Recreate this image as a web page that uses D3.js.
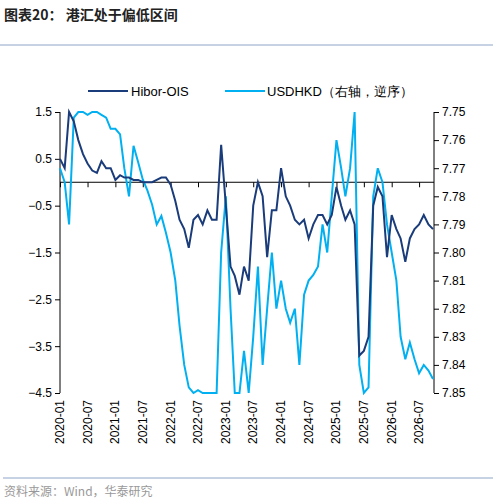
<!DOCTYPE html><html><head><meta charset="utf-8"><script src="https://cdn.jsdelivr.net/npm/d3@7"></script>
<style>body{margin:0;background:#fff}text{font-family:Arial,"Liberation Sans",sans-serif}</style></head><body><svg id="c" width="493" height="501"></svg><script>
const months=[];for(let y=2020;y<=2026;y++)for(let m=1;m<=12;m++){if(y===2026&&m>10)break;months.push(y+"-"+String(m).padStart(2,"0"));}
const hibor=[0.5,0.3,1.5,1.3,0.9,0.6,0.4,0.25,0.2,0.45,0.3,0.3,0.05,0.15,0.1,0.1,0.05,0.05,0.0,0.0,0.0,0.05,0.1,0.1,-0.05,-0.4,-0.8,-1.0,-1.4,-0.8,-0.7,-0.9,-0.6,-0.8,-0.8,0.8,-0.5,-1.8,-2.0,-2.4,-1.8,-2.1,-0.5,0.0,-0.3,-1.6,-0.6,-0.6,0.3,-0.3,-0.5,-0.8,-0.9,-0.8,-1.2,-0.9,-0.7,-0.7,-0.9,-0.7,-0.1,-0.5,-0.8,-0.6,-0.9,-3.7,-3.6,-3.3,-0.5,-0.1,-0.3,-1.6,-0.7,-1.0,-1.2,-1.7,-1.2,-1.0,-0.9,-0.7,-0.9,-1.0];
const usdhkd=[7.77,7.775,7.79,7.752,7.75,7.75,7.751,7.75,7.75,7.751,7.752,7.756,7.756,7.758,7.77,7.78,7.762,7.768,7.774,7.778,7.783,7.79,7.787,7.793,7.80,7.81,7.826,7.84,7.848,7.85,7.849,7.85,7.85,7.85,7.85,7.80,7.78,7.82,7.85,7.85,7.835,7.85,7.83,7.805,7.84,7.82,7.80,7.82,7.81,7.82,7.825,7.82,7.84,7.815,7.81,7.808,7.805,7.79,7.80,7.78,7.76,7.77,7.78,7.77,7.75,7.84,7.85,7.848,7.78,7.77,7.775,7.79,7.80,7.81,7.83,7.838,7.832,7.838,7.843,7.84,7.842,7.845];
const xTicks=["2020-01","2020-07","2021-01","2021-07","2022-01","2022-07","2023-01","2023-07","2024-01","2024-07","2025-01","2025-07","2026-01","2026-07"];
const leftTicks=[1.5,0.5,-0.5,-1.5,-2.5,-3.5,-4.5];
const rightTicks=[7.75,7.76,7.77,7.78,7.79,7.80,7.81,7.82,7.83,7.84,7.85];
const svg=d3.select("#c");
const pm=s=>d3.timeParse("%Y-%m")(s);
const x=d3.scaleTime().domain([pm("2020-01"),pm("2026-10")]).range([60,433]);
const yL=d3.scaleLinear().domain([-4.5,1.5]).range([393,112]);
const yR=d3.scaleLinear().domain([7.85,7.75]).range([393,112]);
svg.append("text").attr("x",4).attr("y",20).attr("font-size",14).attr("font-weight","bold").attr("fill","#222").style("font-family","'Noto Sans CJK SC'").text("图表20：  港汇处于偏低区间");
svg.append("line").attr("x1",0).attr("x2",493).attr("y1",45).attr("y2",45).attr("stroke","#8EA4C8").attr("stroke-width",1);
svg.append("line").attr("x1",3).attr("x2",493).attr("y1",478).attr("y2",478).attr("stroke","#8EA4C8").attr("stroke-width",1);
svg.append("text").attr("x",4).attr("y",496).attr("font-size",12).attr("fill","#999").style("font-family","'Noto Sans CJK SC'").text("资料来源：Wind，华泰研究");
// axes
const gl=svg.append("g").attr("transform","translate(60,0)").call(d3.axisLeft(yL).tickValues(leftTicks).tickFormat(d3.format(".1f")).tickSize(5));
const gr=svg.append("g").attr("transform","translate(434,0)").call(d3.axisRight(yR).tickValues(rightTicks).tickFormat(d3.format(".2f")).tickSize(5));
[gl,gr].forEach(g=>{g.selectAll("text").attr("font-size",12).attr("fill","#000");g.selectAll("line,path").attr("stroke","#000");g.select(".domain").attr("d",g===gl?"M-0,112V393":"M0,112V393");});
const gx=svg.append("g").attr("transform","translate(0,"+yL(0)+")").call(d3.axisBottom(x).tickValues(xTicks.map(pm)).tickSize(5).tickFormat(""));
gx.select(".domain").attr("d","M60,0H434");gx.selectAll("line,path").attr("stroke","#000");
svg.selectAll(".xl").data(xTicks).enter().append("text").attr("font-size",12).attr("text-anchor","end")
 .attr("transform",d=>`translate(${x(pm(d))+4},400) rotate(-90)`).text(d=>d);
const line=(ys,arr)=>d3.line().x((d,i)=>x(pm(months[i]))).y(d=>ys(d))(arr);
svg.append("path").attr("d",line(yR,usdhkd)).attr("fill","none").attr("stroke","#00B0F0").attr("stroke-width",2);
svg.append("path").attr("d",line(yL,hibor)).attr("fill","none").attr("stroke","#1A3C7A").attr("stroke-width",2);
// legend
svg.append("line").attr("x1",88).attr("x2",128).attr("y1",91).attr("y2",91).attr("stroke","#1A3C7A").attr("stroke-width",2);
svg.append("text").attr("x",131).attr("y",96).attr("font-size",13).text("Hibor-OIS");
svg.append("line").attr("x1",225).attr("x2",265).attr("y1",91).attr("y2",91).attr("stroke","#00B0F0").attr("stroke-width",2);
svg.append("text").attr("x",267).attr("y",96).attr("font-size",13).text("USDHKD（右轴，逆序）");
</script></body></html>
